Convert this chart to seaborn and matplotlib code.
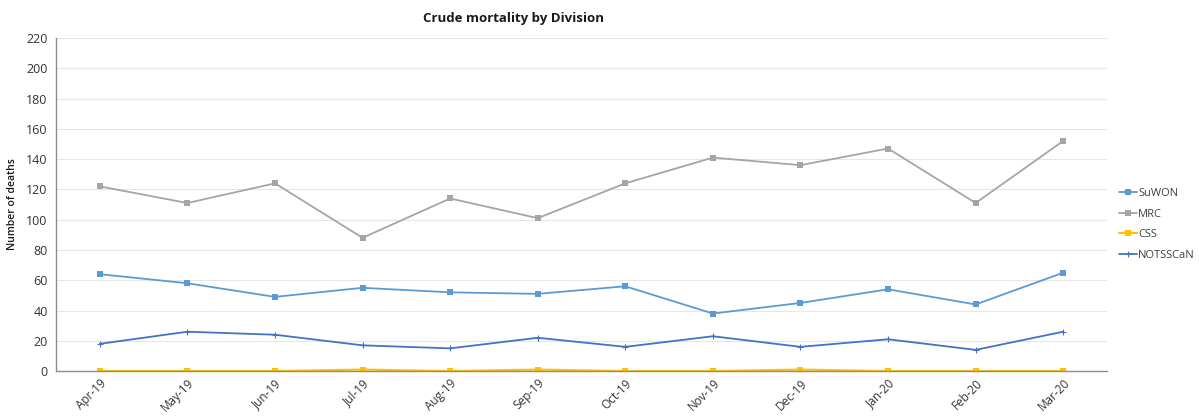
import pandas as pd
import matplotlib
matplotlib.use("Agg")
import matplotlib.pyplot as plt
import seaborn as sns

# monthly crude mortality per division
months = ["Apr-19", "May-19", "Jun-19", "Jul-19", "Aug-19", "Sep-19",
          "Oct-19", "Nov-19", "Dec-19", "Jan-20", "Feb-20", "Mar-20"]
suwon = [64, 58, 49, 55, 52, 51, 56, 38, 45, 54, 44, 65]
mrc = [122, 111, 124, 88, 114, 101, 124, 141, 136, 147, 111, 152]
css = [0, 0, 0, 1, 0, 1, 0, 0, 1, 0, 0, 0]
notsscan = [18, 26, 24, 17, 15, 22, 16, 23, 16, 21, 14, 26]

series = {"SuWON": suwon, "MRC": mrc, "CSS": css, "NOTSSCaN": notsscan}
colors = {"SuWON": "#5B9BD5", "MRC": "#A5A5A5", "CSS": "#FFC000", "NOTSSCaN": "#4472C4"}
markers = {"SuWON": "s", "MRC": "s", "CSS": "s", "NOTSSCaN": "+"}

sns.set_style("whitegrid")
plt.rcParams["font.family"] = ["Open Sans", "DejaVu Sans"]

fig = plt.figure(figsize=(11.99, 4.16), dpi=100)
ax = fig.add_axes([0.0467, 0.108, 0.8766, 0.8007])

x = list(range(len(months)))
for name, vals in series.items():
    df = pd.DataFrame({"x": x, "y": vals})
    sns.lineplot(data=df, x="x", y="y", ax=ax, color=colors[name], marker=markers[name],
                 markersize=4.2 if markers[name] == "s" else 4, markeredgewidth=0.8 if markers[name] == "+" else 0,
                 markeredgecolor=colors[name], linewidth=1.5 if name == "CSS" else 1.3,
                 label=name)

ax.set_xlim(-0.5, len(months) - 0.5)
ax.set_ylim(0, 220)
ax.set_yticks(range(0, 221, 20))
ax.set_xticks(x)
ax.set_xticklabels(months, rotation=45, ha="right", rotation_mode="anchor", fontsize=8.5, color="#333333")
ax.tick_params(axis="y", labelsize=9, labelcolor="#333333", length=0, pad=6)
ax.tick_params(axis="x", length=0, pad=4)
ax.grid(axis="x", visible=False)
ax.grid(axis="y", color="#E6E6E6", linewidth=0.8)
for s in ["top", "right"]:
    ax.spines[s].set_visible(False)
for s in ["left", "bottom"]:
    ax.spines[s].set_color("#8C8C8C")
    ax.spines[s].set_linewidth(1.0)
ax.set_xlabel("")
ax.set_ylabel("Number of deaths", fontsize=7.5, color="#1a1a1a", fontweight="semibold", labelpad=6)

ax.legend(loc="center left", bbox_to_anchor=(1.002, 0.44), frameon=False, fontsize=8,
          handlelength=1.6, handletextpad=0.1, labelspacing=0.85, labelcolor="#404040")

fig.text(0.428, 0.955, "Crude mortality by Division", ha="center", va="center",
         fontsize=9.5, fontweight="bold", color="#1a1a1a")

fig.savefig("out.png", dpi=100)
